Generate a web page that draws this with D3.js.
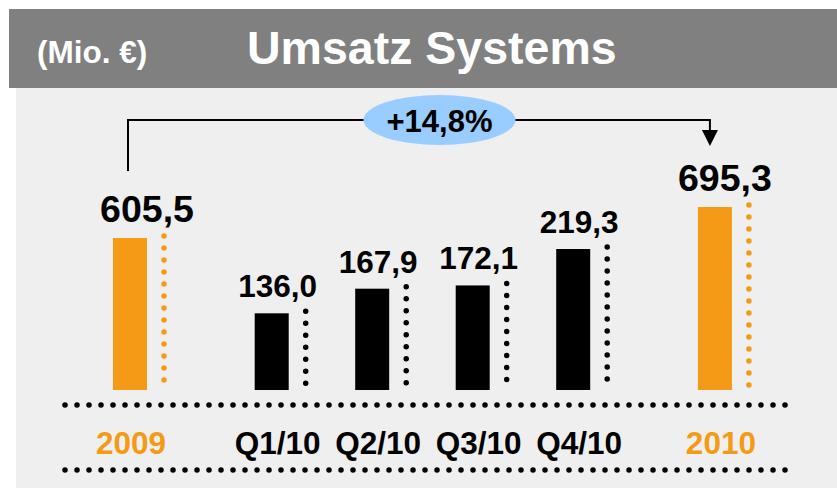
<!DOCTYPE html>
<html>
<head>
<meta charset="utf-8">
<script src="https://cdn.jsdelivr.net/npm/d3@7.9.0/dist/d3.min.js"></script>
<style>
  html, body { margin: 0; padding: 0; background: #fff; }
  svg { display: block; font-family: 'Liberation Sans', Arial, Helvetica, sans-serif; }
</style>
</head>
<body>
<div id="chart"></div>
<script>
// ---------- DATA ----------
const categories = ['2009', 'Q1/10', 'Q2/10', 'Q3/10', 'Q4/10', '2010'];
const values = [605.5, 136.0, 167.9, 172.1, 219.3, 695.3];
const kinds = ['year', 'quarter', 'quarter', 'quarter', 'quarter', 'year'];
const valueLabels = ['605,5', '136,0', '167,9', '172,1', '219,3', '695,3'];
const growthLabel = '+14,8%';
const titleText = 'Umsatz Systems';
const unitText = '(Mio. €)';

// ---------- LAYOUT ----------
const width = 837;
const height = 488;
const baseline = 390;
const orange = '#F49A16';
const colors = { year: orange, quarter: '#000' };

const svg = d3.select('#chart')
  .append('svg')
  .attr('width', width)
  .attr('height', height);

// body + header
svg.append('rect').attr('x', 16).attr('y', 88).attr('width', width - 16).attr('height', height - 88).attr('fill', '#efefef');
svg.append('rect').attr('x', 9).attr('y', 9).attr('width', width - 9).attr('height', 79).attr('fill', '#808080');

svg.append('text').attr('x', 37).attr('y', 63).attr('fill', '#fff')
  .attr('font-size', 31.5).attr('font-weight', 'bold').text(unitText);
svg.append('text').attr('x', 247).attr('y', 64).attr('fill', '#fff')
  .attr('font-size', 46.5).attr('font-weight', 'bold').text(titleText);

// ---------- SCALES ----------
// extra gap before and after the quarter group
const gap = 0.41;
const slot = (i) => i + (i > 0 ? gap : 0) + (i > 4 ? gap : 0);
const xScale = d3.scaleLinear().domain([0, 1]).range([137, 237.5]);
const cx = (i) => xScale(slot(i));

// the picture uses a truncated, separate axis for years and quarters
const yYear = d3.scaleLinear().domain([165, 695.3]).range([baseline, 207]);
const yQuarter = d3.scaleLinear().domain([36.7, 219.3]).range([baseline, 249]);
const yOf = (i) => (kinds[i] === 'year' ? yYear : yQuarter)(values[i]);

const barW = 34;
const rows = categories.map((c, i) => ({ c, i, v: values[i], kind: kinds[i] }));

// ---------- BARS ----------
svg.append('g').selectAll('rect')
  .data(rows)
  .join('rect')
  .attr('x', (d) => cx(d.i) - 24)
  .attr('y', (d) => yOf(d.i))
  .attr('width', barW)
  .attr('height', (d) => baseline - yOf(d.i))
  .attr('fill', (d) => colors[d.kind]);

// dotted lines beside bars
svg.append('g').selectAll('line')
  .data(rows)
  .join('line')
  .attr('x1', (d) => cx(d.i) + 27)
  .attr('x2', (d) => cx(d.i) + 27)
  .attr('y1', (d) => yOf(d.i) - 2)
  .attr('y2', baseline - 2)
  .attr('stroke', (d) => colors[d.kind])
  .attr('stroke-width', 5.5)
  .attr('stroke-linecap', 'round')
  .attr('stroke-dasharray', '0 12');

// value labels
svg.append('g').selectAll('text')
  .data(rows)
  .join('text')
  .attr('x', (d) => cx(d.i) + (d.i === 0 ? 10 : d.kind === 'year' ? 3 : -1))
  .attr('y', (d) => yOf(d.i) - 16)
  .attr('text-anchor', 'middle')
  .attr('font-weight', 'bold')
  .attr('font-size', (d) => (d.kind === 'year' ? 37.5 : 31.5))
  .attr('fill', '#000')
  .text((d) => valueLabels[d.i]);

// ---------- CATEGORY ROW ----------
[405, 470].forEach((y) => {
  svg.append('line')
    .attr('x1', 65).attr('x2', 787)
    .attr('y1', y).attr('y2', y)
    .attr('stroke', '#000')
    .attr('stroke-width', 5.5)
    .attr('stroke-linecap', 'round')
    .attr('stroke-dasharray', '0 12');
});

svg.append('g').selectAll('text')
  .data(rows)
  .join('text')
  .attr('x', (d) => cx(d.i) + (d.i === 0 ? -6 : -1))
  .attr('y', 454)
  .attr('text-anchor', 'middle')
  .attr('font-weight', 'bold')
  .attr('font-size', 31.5)
  .attr('fill', (d) => colors[d.kind])
  .text((d) => d.c);

// ---------- GROWTH BRACKET ----------
const xL = cx(0) - 9;
const xR = cx(5) - 12;
const yTop = 120;
svg.append('path')
  .attr('d', `M${xL},171V${yTop}H${xR}V136`)
  .attr('fill', 'none')
  .attr('stroke', '#000')
  .attr('stroke-width', 2);
svg.append('path')
  .attr('d', `M${xR - 8},130H${xR + 8}L${xR},146Z`)
  .attr('fill', '#000');

const ex = (cx(2) + cx(3)) / 2 + 10;
svg.append('ellipse')
  .attr('cx', ex).attr('cy', yTop)
  .attr('rx', 76).attr('ry', 25)
  .attr('fill', '#99ccff');
svg.append('text')
  .attr('x', ex).attr('y', 132)
  .attr('text-anchor', 'middle')
  .attr('font-weight', 'bold')
  .attr('font-size', 31)
  .attr('fill', '#000')
  .text(growthLabel);
</script>
</body>
</html>
